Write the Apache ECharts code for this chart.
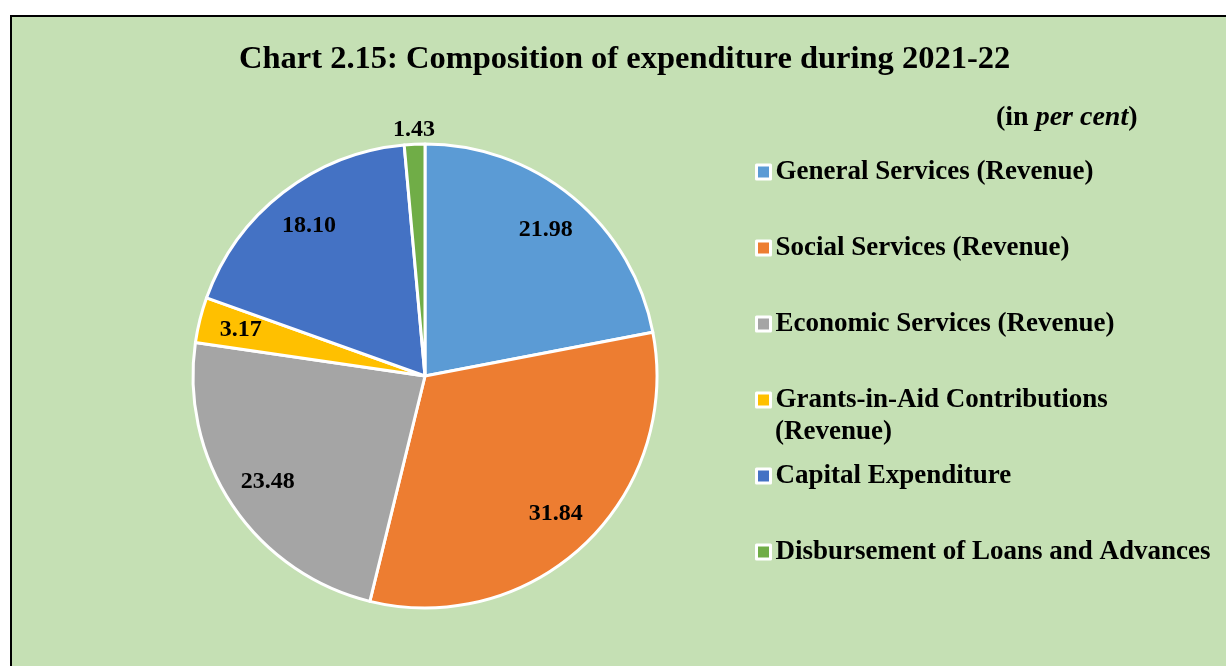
<!DOCTYPE html>
<html lang="en">
<head>
  <meta charset="UTF-8">
  <script src="https://cdn.jsdelivr.net/npm/echarts@6/dist/echarts.min.js"></script>
  <title>Composition of expenditure during 2021-22</title>
  <style>
    html, body { margin: 0; padding: 0; background: #fff; }
    #main { width: 1226px; height: 666px; }
  </style>
</head>
<body>
  <div id="main"></div>
  <script>
    // chart data
    var categories = [
      'General Services (Revenue)',
      'Social Services (Revenue)',
      'Economic Services (Revenue)',
      'Grants-in-Aid Contributions',
      'Capital Expenditure',
      'Disbursement of Loans and Advances'
    ];
    var values = [21.98, 31.84, 23.48, 3.17, 18.10, 1.43];
    var colors = ['#5B9BD5', '#ED7D31', '#A5A5A5', '#FFC000', '#4472C4', '#70AD47'];

    var font = "'Liberation Serif', 'Times New Roman', serif";
    var cx = 425, cy = 376, R = 232;

    var myChart = echarts.init(document.getElementById('main'));

    var pieData = categories.map(function (name, i) {
      return { name: name, value: values[i], itemStyle: { color: colors[i] } };
    });

    // transparent overlay rings, only used to put the labels at the right radius
    function labelRing(r0, r1, showIdx) {
      return {
        type: 'pie',
        silent: true,
        center: [cx, cy],
        radius: [r0, r1],
        startAngle: 90,
        legendHoverLink: false,
        itemStyle: { color: 'rgba(0,0,0,0)', borderWidth: 0 },
        label: {
          show: true,
          position: 'inside',
          formatter: function (p) {
            return showIdx(p.dataIndex) ? p.value.toFixed(2) : '';
          },
          fontFamily: font,
          fontWeight: 'bold',
          fontSize: 24,
          color: '#000'
        },
        labelLine: { show: false },
        emphasis: { disabled: true },
        data: categories.map(function (name, i) { return { name: name + ' ', value: values[i] }; })
      };
    }

    myChart.setOption({
      backgroundColor: '#fff',
      animation: false,
      graphic: [
        {
          type: 'rect', z: -10, silent: true,
          shape: { x: 11, y: 16, width: 1300, height: 700 },
          style: { fill: '#C5E0B4', stroke: '#000', lineWidth: 2 }
        },
        {
          type: 'text', left: 996, top: 104, silent: true,
          style: {
            text: '{a|(in }{b|per cent}{a|)}',
            rich: {
              a: { fontFamily: font, fontWeight: 'bold', fontSize: 28, fill: '#000' },
              b: { fontFamily: font, fontWeight: 'bold', fontStyle: 'italic', fontSize: 28, fill: '#000' }
            }
          }
        },
        {
          type: 'text', left: 775, top: 419, silent: true,
          style: { text: '(Revenue)', fontFamily: font, fontWeight: 'bold', fontSize: 27, fill: '#000' }
        }
      ],
      title: {
        text: 'Chart 2.15: Composition of expenditure during 2021-22',
        left: 239,
        top: 43,
        padding: 0,
        textStyle: { fontFamily: font, fontWeight: 'bold', fontSize: 32.5, color: '#000' }
      },
      legend: {
        orient: 'vertical',
        left: 755,
        top: 157,
        padding: 0,
        itemWidth: 14,
        itemHeight: 14,
        itemGap: 46,
        icon: 'rect',
        data: categories,
        itemStyle: { borderColor: '#fff', borderWidth: 3 },
        textStyle: { fontFamily: font, fontWeight: 'bold', fontSize: 27, lineHeight: 30, color: '#000' },
        selectedMode: false
      },
      series: [
        {
          type: 'pie',
          center: [cx, cy],
          radius: [0, R],
          startAngle: 90,
          itemStyle: { borderColor: '#fff', borderWidth: 3 },
          label: { show: false },
          labelLine: { show: false },
          data: pieData
        },
        labelRing(R * 0.61, R, function (i) { return i < 5; }),
        labelRing(R, R * 1.10, function (i) { return i === 5; })
      ]
    });
  </script>
</body>
</html>
